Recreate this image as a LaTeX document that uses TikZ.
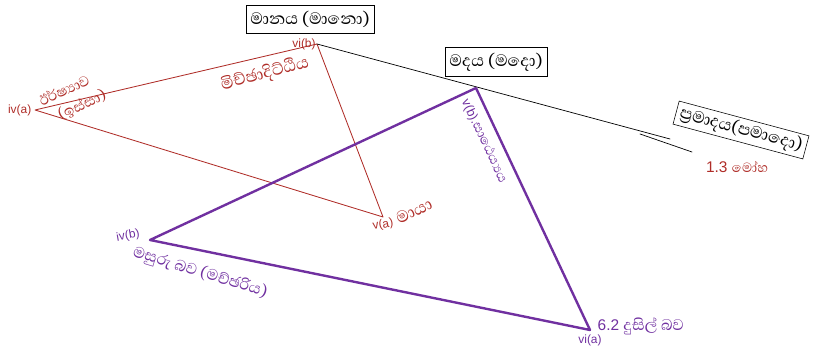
\documentclass[tikz,border=0pt]{standalone}
\usepackage{tkz-euclide}
\usepackage{fontspec}
\setmainfont{Liberation Sans}
\newfontfamily\sinhfont[Script=Sinhala]{Abhaya Libre}
\definecolor{ViceClr}{RGB}{175,45,40}
\definecolor{PurpClr}{RGB}{112,48,160}

\begin{document}
\begin{tikzpicture}[x=0.025cm,y=0.025cm,
  termbox/.style={draw,thin,inner xsep=3pt,inner ysep=4pt,font=\sinhfont\fontsize{15}{17}\selectfont},
  vicelbl/.style={text=ViceClr,font=\sinhfont\fontsize{15}{17}\selectfont,inner sep=1pt},
  purplbl/.style={text=PurpClr,font=\sinhfont\fontsize{14}{16}\selectfont,inner sep=1pt},
  ptlbl/.style={font=\fontsize{8.5}{10}\selectfont,inner sep=1pt}]
\useasboundingbox (0,0) rectangle (817,354);
\tkzSetUpLine[line width=0.6pt,color=ViceClr]

\tkzDefPoints{35/244/IVa,317/310/VIb,383/137/Va,670/215/Lend,640/220/Ma,692/202/Mb}
\tkzDefPoints{150/114/IVb,476/266/Vb,590/24/VIa}

% red triangle and the black line
\tkzDrawPolygon(IVa,VIb,Va)
\tkzDrawSegments[color=black,line width=0.5pt](VIb,Lend Ma,Mb)

% purple triangle
\tkzDrawPolygon[color=PurpClr,line width=1.7pt,line join=round](IVb,Vb,VIa)

% boxes
\node[termbox] (mana) at (310,335) {මානය (මානො)};
\node[termbox,fill=white] (mada) at (496,292) {මදය (මදො)};
\node[termbox,rotate=-15,inner ysep=2pt] (pamada) at (741,224) {ප්‍රමාදය(පමාදො)};

% red labels
\node[ptlbl,text=ViceClr,anchor=east] (lIVa) at (33,244) {iv(a)};
\node[vicelbl,rotate=25,font=\sinhfont\fontsize{13}{15}\selectfont] (issa1) at (64,264) {ඊර්ෂ්‍යාව};
\node[vicelbl,rotate=25,font=\sinhfont\fontsize{13}{15}\selectfont] (issa2) at (82,249) {(ඉස්සා)};
\node[vicelbl,rotate=15] (miccha) at (265,280) {මිච්ඡාදිට්ඨිය};
\node[ptlbl,text=ViceClr] (lVIb) at (304,310) {vi(b)};
\node[ptlbl,text=ViceClr,rotate=10] (lVa) at (383,129) {v(a)};
\node[vicelbl,rotate=25] (maya) at (414,143) {මායා};
\node[vicelbl,font=\fontsize{11}{13}\selectfont] (moha) at (737,187) {1.3 {\sinhfont\fontsize{12}{14}\selectfont මෝහ}};

% purple labels
\node[ptlbl,text=PurpClr,rotate=10] (lIVb) at (128,118) {iv(b)};
\node[purplbl,rotate=-17] (maccha) at (200,81) {මසුරු බව (මච්ඡරිය)};
\node[purplbl,rotate=-65,font=\fontsize{9}{11}\selectfont] (satheyya) at (484,213) {v(b).{\sinhfont\fontsize{12}{14}\selectfont සාඨෙය්‍යය}};
\node[purplbl,anchor=west,font=\fontsize{11}{13}\selectfont] (dusil) at (596,28) {6.2 {\sinhfont\fontsize{14}{16}\selectfont දුසිල් බව}};
\node[ptlbl,text=PurpClr] (lVIa) at (590,14) {vi(a)};

\end{tikzpicture}
\end{document}
